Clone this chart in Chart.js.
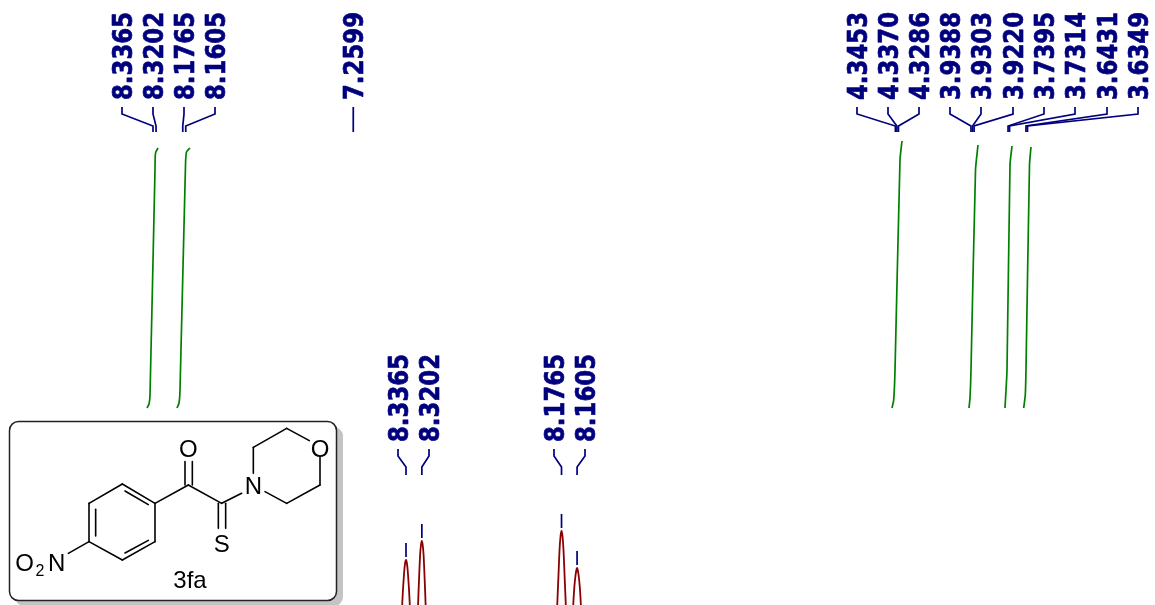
<!DOCTYPE html>
<html><head><meta charset="utf-8">
<style>html,body{margin:0;padding:0;background:#fff;overflow:hidden}canvas{display:block}</style>
<script src="https://cdn.jsdelivr.net/npm/chart.js@4/dist/chart.umd.min.js"></script>
</head><body><canvas id="c" width="1155" height="605"></canvas>
<script>
// ---- data ----
const topPeaks = [8.3365,8.3202,8.1765,8.1605,7.2599,4.3453,4.3370,4.3286,3.9388,3.9303,3.9220,3.7395,3.7314,3.6431,3.6349];
const topLabels = ["8.3365","8.3202","8.1765","8.1605","7.2599","4.3453","4.3370","4.3286","3.9388","3.9303","3.9220","3.7395","3.7314","3.6431","3.6349"];
const insetPeaks = [8.3365,8.3202,8.1765,8.1605];
const insetLabels = ["8.3365","8.3202","8.1765","8.1605"];
const insetHeights = [45,64,74,37];
const spectrumPpm = [8.3410,8.3404,8.3393,8.3383,8.3374,8.3365,8.3356,8.3347,8.3337,8.3326,8.3320,
  8.3247,8.3241,8.3230,8.3220,8.3211,8.3202,8.3193,8.3184,8.3174,8.3163,8.3157,
  8.1815,8.1809,8.1797,8.1786,8.1775,8.1765,8.1755,8.1744,8.1733,8.1721,8.1715,
  8.1650,8.1644,8.1633,8.1623,8.1614,8.1605,8.1596,8.1587,8.1577,8.1566,8.1560];
const spectrumInt = [-30,0,20,34,42,45,42,34,20,0,-30,
  -30,0,28,50,60,64,60,50,28,0,-30,
  -30,0,28,54,69,74,69,54,28,0,-30,
  -30,0,18,28,34,37,34,28,18,0,-30];
const integralPpm = [
  [8.3688,8.3580,8.3526,8.3258,8.3231,8.3096],
  [8.2075,8.1967,8.1913,8.1618,8.1564,8.1376],
  [4.3634,4.3543,4.3472,4.3204,4.3096],
  [3.9495,3.9441,3.9387,3.9144,3.9010],
  [3.7559,3.7451,3.7290,3.7182],
  [3.6554,3.6468,3.6430,3.6242,3.6161]
];
const integralVal = [
  [0,4,13,238,255,260],
  [0,5,18,243,256,260],
  [0,8,38,248,267],
  [0,10,38,238,263],
  [0,38,243,262],
  [0,13,38,243,261]
];
// ---- layout ----
const W = 1155, H = 605;
const NAVY = '#00007f', GREEN = '#008000', RED = '#8b0000';
const topX = px => 8.3365 - (px - 153) / 186;
const insX = px => 8.3365 - (px - 406) / 972;
const topLabelPx = [122,153,184,215,353.3,857,888,919,950,981,1013,1044,1075,1107,1138];
const insLabelPx = [398,429,554,585];

const datasets = [];
const line = (data, color, xAxisID, yAxisID, width, tension) => datasets.push({
  data, borderColor: color, borderWidth: width, xAxisID, yAxisID, tension: tension || 0,
  pointRadius: 0, fill: false, showLine: true
});
// top leaders
topPeaks.forEach((p, i) => {
  const lx = topX(topLabelPx[i]);
  line([{x:lx,y:107},{x:lx,y:114},{x:p,y:126},{x:p,y:132}], NAVY, 'xTop', 'yPx', 1.7);
});
// integrals
integralPpm.forEach((a, k) => line(a.map((x, i) => ({x, y: integralVal[k][i]})), GREEN, 'xTop', 'yInt', 1.7, 0.2));
// inset leaders + peak ticks
insetPeaks.forEach((p, i) => {
  const lx = insX(insLabelPx[i]);
  line([{x:lx,y:449},{x:lx,y:456},{x:p,y:467},{x:p,y:475}], NAVY, 'xInset', 'yPx', 1.7);
  const t = H - insetHeights[i];
  line([{x:p,y:t-17},{x:p,y:t-3}], NAVY, 'xInset', 'yPx', 1.7);
});
// inset spectrum
line(spectrumPpm.map((x, i) => ({x, y: spectrumInt[i]})), RED, 'xInset', 'ySpec', 1.8, 0.2);

const under = {
  id: 'under',
  beforeDatasetsDraw(chart) {
    const c = chart.ctx;
    c.save();
    // structure panel shadow + box
    const rr = (x, y, w, h, r) => { c.beginPath(); c.roundRect(x, y, w, h, r); };
    c.fillStyle = '#c4c4c4'; rr(15, 427, 328, 179, 9); c.fill();
    c.fillStyle = '#fff'; c.strokeStyle = '#222'; c.lineWidth = 1.5;
    rr(9.5, 421.5, 327, 179, 9); c.fill(); c.stroke();
    // structure
    const Z = (zx, zy) => [zx / 3, 410 + zy / 3];
    const seg = (a, b, d, e) => { c.beginPath(); c.moveTo(...Z(a, b)); c.lineTo(...Z(d, e)); c.stroke(); };
    c.strokeStyle = '#000'; c.lineWidth = 1.6; c.lineCap = 'round';
    [[367,222,465,280],[465,280,465,395],[465,395,367,450],[367,450,267,395],[267,395,267,280],[267,280,367,222],
     [375,243,445,284],[287,298,287,378],[375,429,445,391],
     [465,280,565,225],[555,225,555,155],[577,225,577,155],[565,225,665,280],
     [655,280,655,355],[677,280,677,355],[665,280,725,250],
     [760,190,760,112],[760,112,860,55],[860,55,928,92],[960,140,960,225],[960,225,860,280],[860,280,795,245],
     [267,395,205,430]].forEach(s => seg(...s));
    c.fillStyle = '#000'; c.textBaseline = 'alphabetic'; c.textAlign = 'center';
    c.font = '24px "Liberation Sans"';
    const T = (s, zx, zy) => { const p = Z(zx, zy); c.fillText(s, p[0], p[1]); };
    T('O', 565, 140); T('S', 665, 425); T('N', 760, 252); T('O', 960, 140); T('O', 74, 482); T('N', 170, 482);
    T('3fa', 570, 535);
    c.font = '16px "Liberation Sans"'; T('2', 120, 498);
    // peak labels
    c.fillStyle = '#00007f'; c.strokeStyle = '#00007f'; c.textAlign = 'left';
    c.font = 'bold 27px "DejaVu Sans"'; c.lineWidth = 0.7; c.lineJoin = 'round';
    const label = (s, cx, y0) => {
      c.save(); c.translate(cx + 10, y0); c.rotate(-Math.PI / 2); c.scale(0.845, 1);
      c.fillText(s, 0, 0); c.strokeText(s, 0, 0); c.restore();
    };
    topLabels.forEach((s, i) => label(s, topLabelPx[i], 100));
    insetLabels.forEach((s, i) => label(s, insLabelPx[i], 442));
    c.restore();
  }
};

const hidden = (o) => Object.assign({ type: 'linear', display: false }, o);
new Chart(document.getElementById('c'), {
  type: 'scatter',
  data: { datasets },
  plugins: [under],
  options: {
    responsive: false, animation: false, devicePixelRatio: 1,
    layout: { padding: 0 },
    plugins: { legend: { display: false }, tooltip: { enabled: false }, title: { display: false } },
    scales: {
      xTop: hidden({ axis: 'x', reverse: true, min: topX(W), max: topX(0) }),
      xInset: hidden({ axis: 'x', reverse: true, min: insX(W), max: insX(0) }),
      yPx: hidden({ axis: 'y', reverse: true, min: 0, max: H }),
      yInt: hidden({ axis: 'y', min: 408 - H, max: 408 }),
      ySpec: hidden({ axis: 'y', min: 0, max: H })
    }
  }
});
</script></body></html>
